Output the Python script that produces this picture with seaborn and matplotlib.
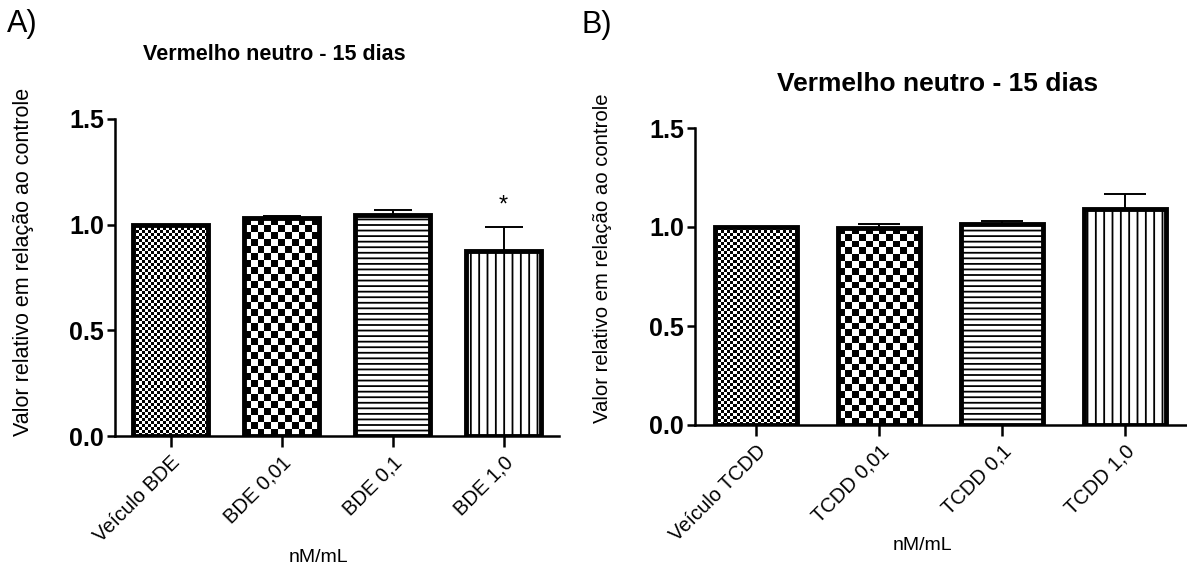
import numpy as np
import pandas as pd
import matplotlib
matplotlib.use("Agg")
import matplotlib.pyplot as plt
import seaborn as sns

# ---- data ----
cats_A = ["Veículo BDE", "BDE 0,01", "BDE 0,1", "BDE 1,0"]
vals_A = [1.0, 1.03, 1.045, 0.875]
err_A = [0.0, 0.012, 0.025, 0.115]
cats_B = ["Veículo TCDD", "TCDD 0,01", "TCDD 0,1", "TCDD 1,0"]
vals_B = [1.0, 0.995, 1.015, 1.09]
err_B = [0.0, 0.022, 0.015, 0.075]
yticks = [0.0, 0.5, 1.0, 1.5]
title = "Vermelho neutro - 15 dias"
ylabel = "Valor relativo em relação ao controle"
xlabel = "nM/mL"

sns.set_style("ticks")
plt.rcParams["font.family"] = ["Liberation Sans", "DejaVu Sans"]
plt.rcParams["hatch.linewidth"] = 1.3
for k in ["text.color", "axes.labelcolor", "xtick.color", "ytick.color", "axes.edgecolor"]:
    plt.rcParams[k] = "black"

fig = plt.figure(figsize=(11.87, 5.70), dpi=100)
axA = fig.add_axes([115/1187, 1-436/570, (559-115)/1187, (436-119)/570])
axB = fig.add_axes([695/1187, 1-425/570, (1186-695)/1187, (425-128)/570])


def checker(ax, patch, cell_px):
    x0, w, h = patch.get_x(), patch.get_width(), patch.get_height()
    p0 = ax.transData.transform((x0, 0))
    p1 = ax.transData.transform((x0 + w, h))
    ncol = max(1, int(round(abs(p1[0]-p0[0]) / cell_px)))
    nrow = max(1, int(round(abs(p1[1]-p0[1]) / cell_px)))
    arr = (np.add.outer(np.arange(nrow), np.arange(ncol)) % 2).astype(float)
    im = ax.imshow(arr, cmap="gray", extent=(x0, x0+w, 0, h), origin="lower",
                   interpolation="nearest", aspect="auto", zorder=0.5)
    im.set_clip_path(patch)


def panel(ax, cats, vals, errs, capsize, tick_fs, cell_small, cell_big):
    df = pd.DataFrame({"cat": cats, "val": vals})
    sns.barplot(data=df, x="cat", y="val", ax=ax, color="white", width=0.67,
                edgecolor="black", linewidth=3.5, errorbar=None)
    ax.set_xlim(-0.5, 3.5)
    ax.set_ylim(0, 1.5)
    ax.set_yticks(yticks)
    ax.set_yticklabels([f"{t:.1f}" for t in yticks], fontsize=tick_fs, fontweight="bold")
    ax.set_xticks(range(len(cats)))
    ax.set_xticklabels(cats, rotation=45, ha="right", rotation_mode="anchor", fontsize=14.5)
    ax.set_xlabel("")
    ax.set_ylabel("")
    sns.despine(ax=ax)
    for s in ["left", "bottom"]:
        ax.spines[s].set_linewidth(1.8)
        ax.spines[s].set_color("black")
    ax.tick_params(axis="y", length=6, width=1.8, pad=2, colors="black")
    ax.tick_params(axis="x", length=8, width=1.8, pad=4, colors="black")
    patches = ax.patches
    for p in patches:
        p.set_zorder(2)
    patches[0].set_facecolor("none")
    patches[1].set_facecolor("none")
    checker(ax, patches[0], cell_small)
    checker(ax, patches[1], cell_big)
    patches[2].set_hatch("---")
    patches[3].set_hatch("||")
    xs = [p.get_x() + p.get_width()/2 for p in patches]
    ax.errorbar(xs, vals, yerr=[np.zeros(len(vals)), errs], fmt="none",
                ecolor="black", elinewidth=1.4, capsize=capsize, capthick=1.4, zorder=1.5)
    ax.set_ylim(0, 1.5)
    ax.set_xlim(-0.5, 3.5)
    return xs


xsA = panel(axA, cats_A, vals_A, err_A, 13.5, 18, 3.0, 7.0)
xsB = panel(axB, cats_B, vals_B, err_B, 15, 18, 3.0, 6.8)

axA.text(xsA[3], vals_A[3] + err_A[3] + 0.05, "*", ha="center", va="bottom", fontsize=17)

fig.text(274/1187, 1-54/570, title, ha="center", va="center", fontsize=15.5, fontweight="bold")
fig.text(938/1187, 1-84/570, title, ha="center", va="center", fontsize=19, fontweight="bold")
fig.text(22/1187, 1-24/570, "A)", ha="center", va="center", fontsize=22)
fig.text(597/1187, 1-25/570, "B)", ha="center", va="center", fontsize=22)
fig.text(24/1187, 1-262/570, ylabel, rotation=90, ha="center", va="center", fontsize=15.5)
fig.text(603/1187, 1-258/570, ylabel, rotation=90, ha="center", va="center", fontsize=14.6)
fig.text(318/1187, 1-558/570, xlabel, ha="center", va="center", fontsize=14)
fig.text(922/1187, 1-545/570, xlabel, ha="center", va="center", fontsize=14)

fig.savefig("out.png", dpi=100)
